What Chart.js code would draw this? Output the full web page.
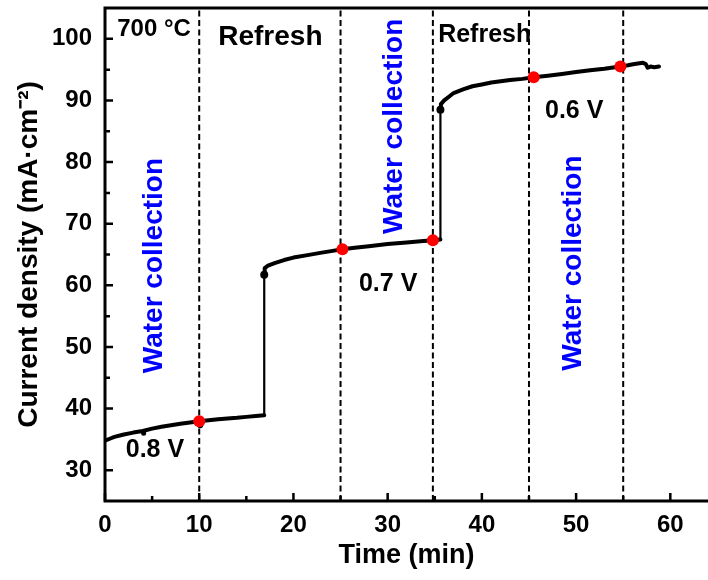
<!DOCTYPE html>
<html>
<head>
<meta charset="utf-8">
<script src="https://cdn.jsdelivr.net/npm/chart.js@4.4.1/dist/chart.umd.min.js"></script>
<style>
html,body{margin:0;padding:0;background:#fff;}
#wrap{width:708px;height:580px;}
canvas{display:block;}
</style>
</head>
<body>
<div id="wrap"><canvas id="c" width="708" height="580"></canvas></div>
<script>
// ---- data ----
const timeMin = [0, 0.5, 1, 2, 3, 4, 5, 6, 7, 8, 9, 10, 11, 12, 13, 14, 15, 16, 16.9,
  16.9, 16.95, 17.3, 18, 19, 20, 21.5, 23, 24, 25.2, 26.5, 28, 30, 32, 33.5, 34.8, 35.6,
  35.6, 35.65, 36, 36.5, 37, 38, 39, 40, 41, 42, 43, 44.3, 45.5, 47, 48.5, 50, 51.5, 53, 54.7,
  55.5, 56.2, 57.1, 57.4, 57.6, 57.9, 58.3, 58.8];
const currentDensity = [34.8, 35.1, 35.4, 35.8, 36.1, 36.35, 36.75, 37.05, 37.3, 37.55, 37.75, 37.95, 38.1, 38.25, 38.4, 38.5, 38.65, 38.8, 38.9,
  61.7, 62.8, 63.2, 63.6, 64.1, 64.5, 64.9, 65.3, 65.55, 65.85, 66.1, 66.35, 66.7, 66.95, 67.15, 67.3, 67.45,
  88.5, 89.4, 90.0, 90.6, 91.2, 91.8, 92.3, 92.6, 92.9, 93.1, 93.3, 93.5, 93.75, 94.0, 94.3, 94.6, 94.9, 95.15, 95.5,
  95.7, 95.9, 96.1, 95.9, 95.3, 95.5, 95.4, 95.5];

const redTimes = [10, 25.2, 34.8, 45.5, 54.7];
const redValues = [37.95, 65.85, 67.3, 93.75, 95.5];
const blackTimes = [4.1, 10.1, 16.9, 35.6];
const blackValues = [36.0, 37.3, 61.7, 88.5];
const blackSizes = [2.5, 3, 4, 4];

const dividerTimes = [10, 25, 34.8, 45, 55];

const xTickValues = [0, 10, 20, 30, 40, 50, 60];
const yTickValues = [30, 40, 50, 60, 70, 80, 90, 100];

const xTitle = 'Time (min)';
const yTitle = 'Current density (mA\u00B7cm\u207B\u00B2)';

// text annotations
const noteTexts = ['700 \u00B0C', 'Refresh', 'Refresh', '0.8 V', '0.7 V', '0.6 V'];
const noteX = [1.3, 17.55, 40.3, 5.3, 30.05, 49.8];
const noteY = [100.4, 99.0, 99.5, 32.1, 59.0, 87.2];
const noteAlign = ['left', 'center', 'center', 'center', 'center', 'center'];
const noteSize = [24, 28, 25, 25, 25, 25];

const waterText = 'Water collection';
const waterX = [6.06, 31.5, 50.5];
const waterY = [63.2, 85.8, 63.6];

// ---- chart ----
const FONT = "'Liberation Sans', Arial, Helvetica, sans-serif";
const PLOT_RIGHT = 708;

const curvePts = timeMin.map((t, i) => ({x: t, y: currentDensity[i]}));
const redPts = redTimes.map((t, i) => ({x: t, y: redValues[i]}));
const blackPts = blackTimes.map((t, i) => ({x: t, y: blackValues[i]}));

const datasets = [];
datasets.push({
  label: 'red', data: redPts, showLine: false, order: 0,
  pointRadius: 6, pointBackgroundColor: '#ff0000', pointBorderColor: '#ff0000', pointBorderWidth: 0
});
datasets.push({
  label: 'black', data: blackPts, showLine: false, order: 1,
  pointRadius: blackSizes, pointBackgroundColor: '#000', pointBorderColor: '#000', pointBorderWidth: 0
});
datasets.push({
  label: 'curve', data: curvePts, showLine: true, order: 2,
  borderColor: '#000', borderWidth: 4, pointRadius: 0, tension: 0,
  borderJoinStyle: 'round', borderCapStyle: 'round',
  segment: {
    borderWidth: ctx => (ctx.p0.parsed.x === ctx.p1.parsed.x ? 2.2 : 4)
  }
});
dividerTimes.forEach((t, i) => {
  datasets.push({
    label: 'div' + i, data: [{x: t, y: 25}, {x: t, y: 105}], showLine: true, order: 3,
    borderColor: '#000', borderWidth: 2, borderDash: [6, 3.5], pointRadius: 0
  });
});

function zeroPad(s) { s.paddingTop = 0; s.paddingBottom = 0; s.paddingLeft = 0; s.paddingRight = 0; }

const deco = {
  id: 'deco',
  afterLayout(chart) {
    // stretch the plot area to the right edge, as in the reference
    const a = chart.chartArea, x = chart.scales.x;
    a.right = PLOT_RIGHT; a.width = a.right - a.left;
    x.right = PLOT_RIGHT; x.width = x.right - x.left;
    x._labelItems = null;
    x.configure();
  },
  afterDraw(chart) {
    const {ctx, chartArea: a, scales: {x, y}} = chart;
    ctx.save();
    ctx.strokeStyle = '#000';
    ctx.lineCap = 'butt';
    // frame
    ctx.lineWidth = 3;
    ctx.beginPath();
    ctx.moveTo(a.left - 1.5, a.top); ctx.lineTo(a.right, a.top);
    ctx.moveTo(a.left, a.top); ctx.lineTo(a.left, a.bottom + 1.5);
    ctx.moveTo(a.left - 1.5, a.bottom); ctx.lineTo(a.right, a.bottom);
    ctx.stroke();
    // inward ticks
    ctx.lineWidth = 2.5;
    ctx.beginPath();
    xTickValues.forEach(v => {
      const px = x.getPixelForValue(v);
      ctx.moveTo(px, a.bottom); ctx.lineTo(px, a.bottom - 8);
      const m = v + 5;
      if (m < x.max) {
        const pm = x.getPixelForValue(m);
        ctx.moveTo(pm, a.bottom); ctx.lineTo(pm, a.bottom - 5);
      }
    });
    yTickValues.forEach(v => {
      const py = y.getPixelForValue(v);
      ctx.moveTo(a.left, py); ctx.lineTo(a.left + 8, py);
      const m = v - 5;
      if (m > y.min) {
        const pm = y.getPixelForValue(m);
        ctx.moveTo(a.left, pm); ctx.lineTo(a.left + 5, pm);
      }
    });
    ctx.stroke();
    // notes
    ctx.fillStyle = '#000';
    ctx.textBaseline = 'alphabetic';
    noteTexts.forEach((t, i) => {
      ctx.font = 'bold ' + noteSize[i] + 'px ' + FONT;
      ctx.textAlign = noteAlign[i];
      ctx.fillText(t, x.getPixelForValue(noteX[i]), y.getPixelForValue(noteY[i]));
    });
    // vertical blue labels
    ctx.fillStyle = '#0000ff';
    ctx.font = 'bold 28px ' + FONT;
    ctx.textAlign = 'center';
    waterX.forEach((wx, i) => {
      ctx.save();
      ctx.translate(x.getPixelForValue(wx), y.getPixelForValue(waterY[i]));
      ctx.rotate(-Math.PI / 2);
      ctx.fillText(waterText, 0, 0);
      ctx.restore();
    });
    ctx.restore();
  }
};

new Chart(document.getElementById('c'), {
  type: 'scatter',
  data: {datasets},
  options: {
    responsive: false,
    animation: false,
    devicePixelRatio: 1,
    layout: {padding: {top: 8, right: 0, bottom: 0, left: 0}},
    plugins: {legend: {display: false}, tooltip: {enabled: false}},
    scales: {
      x: {
        type: 'linear', min: 0, max: 64,
        grid: {display: false, drawTicks: false},
        border: {display: false},
        afterFit(s) { s.height = 79; zeroPad(s); },
        afterBuildTicks(s) { s.ticks = xTickValues.map(v => ({value: v})); },
        ticks: {padding: 10, color: '#000', font: {family: FONT, size: 24, weight: 'bold'}, maxRotation: 0},
        title: {display: true, text: xTitle, color: '#000', padding: {top: 0, bottom: 8},
          font: {family: FONT, size: 27, weight: 'bold'}}
      },
      y: {
        type: 'linear', min: 25, max: 105,
        grid: {display: false, drawTicks: false},
        border: {display: false},
        afterFit(s) { s.width = 105; zeroPad(s); },
        afterBuildTicks(s) { s.ticks = yTickValues.map(v => ({value: v})); },
        ticks: {padding: 13, color: '#000', font: {family: FONT, size: 24, weight: 'bold'}},
        title: {display: true, text: yTitle, color: '#000', padding: {top: 12, bottom: 0},
          font: {family: FONT, size: 28, weight: 'bold'}}
      }
    }
  },
  plugins: [deco]
});
</script>
</body>
</html>
